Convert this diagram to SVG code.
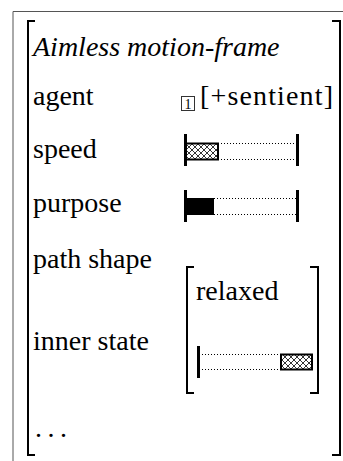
<svg xmlns="http://www.w3.org/2000/svg" width="343" height="461" viewBox="0 0 343 461">
<style>
text{font-family:'Liberation Serif','Times New Roman','DejaVu Serif',serif;font-size:28px;fill:#000}
.it{font-style:italic}
.br{fill:none;stroke:#000;stroke-width:2}
.dot{fill:none;stroke:#000;stroke-width:1;stroke-dasharray:1 2}
.bar{stroke:#000;stroke-width:3}
.hb{fill:url(#hatch);stroke:#000;stroke-width:2}
</style>
<defs>
<pattern id="hatch" width="6" height="6" patternUnits="userSpaceOnUse">
<rect width="6" height="6" fill="#fff"/>
<path d="M0,0L6,6M6,0L0,6" stroke="#000" stroke-width="0.8"/>
</pattern>
</defs>
<g id="frame">
<path d="M13,461V11.5H343" fill="none" stroke="#555" stroke-width="1"/>
<path class="br" d="M35,21H28V455H35"/>
<path class="br" d="M332,21H340V455H332"/>
</g>
<g font-family="Liberation Serif, serif">
<g id="title"><text class="it" x="33" y="56">Aimless motion-frame</text></g>
<g id="agent">
<text x="33" y="105">agent</text>
<rect x="181.5" y="96.5" width="13" height="14" fill="none" stroke="#333" stroke-width="1"/>
<text x="188" y="108.5" text-anchor="middle" style="font-size:14px">1</text>
<text x="200" y="105" textLength="133" lengthAdjust="spacing">[+sentient]</text>
</g>
<g id="speed">
<text x="33" y="158">speed</text>
<path class="dot" d="M218,143.5H297M218,159.5H297"/>
<rect class="hb" x="186" y="143.5" width="32" height="16"/>
<path class="bar" d="M185.5,134V166M297.5,134V166"/>
</g>
<g id="purpose">
<text x="33" y="212">purpose</text>
<path class="dot" d="M214,198.5H297M214,214.5H297"/>
<rect x="186" y="198" width="28" height="17" fill="#000"/>
<path class="bar" d="M185.5,190V222M297.5,190V222"/>
</g>
<g id="path-shape"><text x="33" y="268">path shape</text></g>
<g id="inner-state">
<text x="33" y="350">inner state</text>
<path class="br" d="M194,267H187V393H194"/>
<path class="br" d="M310,267H318V393H310"/>
<text x="196" y="300">relaxed</text>
<path class="dot" d="M199,354.5H281M199,369.5H281"/>
<rect class="hb" x="281" y="354.5" width="31" height="15"/>
<path class="bar" d="M198.5,346V378"/>
</g>
<g id="more"><text x="35" y="437" style="letter-spacing:5.5px">...</text></g>
</g>
</svg>
